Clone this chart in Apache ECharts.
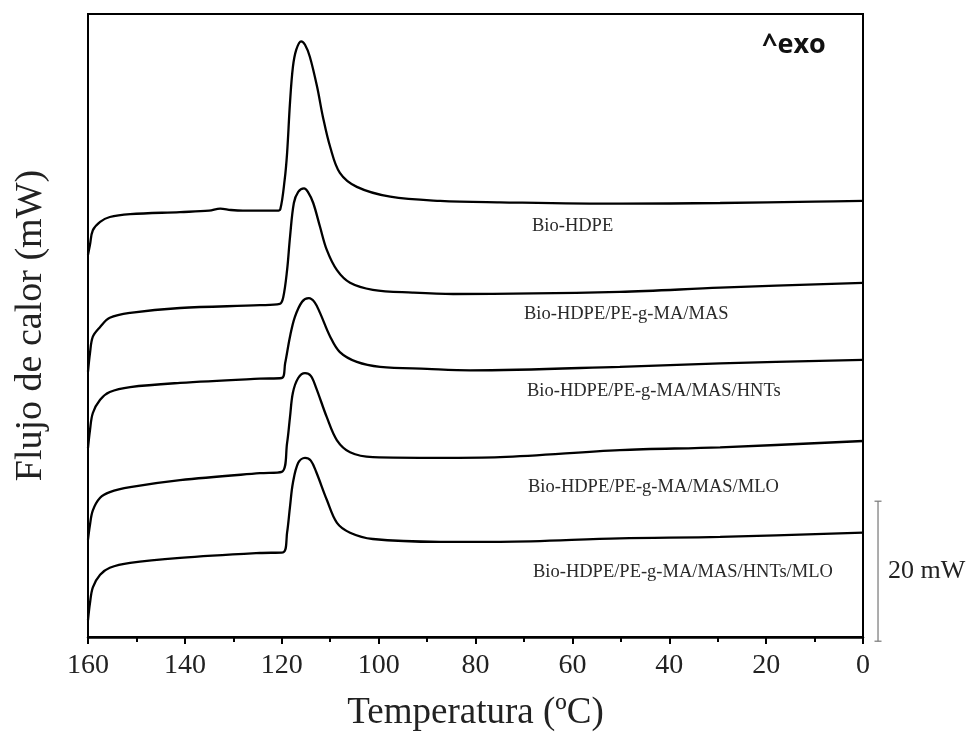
<!DOCTYPE html>
<html>
<head>
<meta charset="utf-8">
<script src="https://cdn.jsdelivr.net/npm/echarts@6/dist/echarts.min.js"></script>
<style>
  html, body { margin: 0; padding: 0; background: #fff; }
  #chart { width: 968px; height: 742px; }
</style>
</head>
<body>
<div id="chart"></div>
<script>
// DSC cooling curves, [temperature (ºC), heat flow (mW, shifted)]
var hdpe = [[160, 54.6], [159.6, 56.0], [159.0, 58.1], [157.5, 59.3], [155.5, 60.0], [151.3, 60.4], [141.0, 60.7], [135.0, 60.9], [132.7, 61.2], [130.5, 61.0], [128.0, 60.9], [121.0, 60.9], [120.3, 61.1], [119.4, 65.3], [118.9, 69.1], [118.3, 76.3], [117.7, 81.4], [117.0, 83.9], [116.0, 85.1], [115.2, 84.6], [114.2, 82.9], [112.7, 78.6], [111.5, 74.3], [110.0, 70.0], [108.0, 66.3], [104.5, 64.3], [97.6, 62.9], [87.3, 62.3], [75.0, 62.1], [50.2, 61.9], [29.5, 62.0], [10.0, 62.2], [0, 62.3]];
var hdpeMas = [[160, 37.9], [159.6, 40.5], [159.0, 42.9], [157.5, 44.3], [155.5, 45.6], [151.3, 46.3], [141.0, 47.0], [124.5, 47.4], [120.4, 47.6], [119.7, 48.5], [118.9, 52.4], [118.3, 57.1], [117.5, 62.0], [116.6, 63.6], [115.4, 64.1], [114.6, 63.6], [113.5, 62.0], [112.1, 58.6], [110.7, 55.3], [108.6, 52.4], [105.9, 50.6], [101.2, 49.6], [93.0, 49.2], [84.6, 49.0], [50.2, 49.3], [29.5, 49.9], [0, 50.6]];
var hdpeMasHnt = [[160, 27.0], [159.6, 29.5], [159.0, 32.0], [157.5, 33.9], [155.5, 35.0], [151.3, 35.7], [141.0, 36.3], [124.5, 36.9], [120.0, 37.0], [119.3, 39.1], [118.3, 42.9], [117.3, 45.7], [115.8, 47.9], [114.4, 48.4], [113.2, 47.8], [112.1, 46.3], [110.0, 42.9], [108.0, 40.7], [104.5, 39.3], [99.7, 38.6], [90.0, 38.3], [81.1, 38.1], [50.2, 38.6], [29.5, 39.1], [0, 39.6]];
var hdpeMasMlo = [[160, 13.9], [159.6, 16.0], [159.0, 18.1], [157.5, 19.9], [155.5, 20.7], [151.3, 21.4], [141.0, 22.4], [124.5, 23.4], [120.0, 23.6], [118.9, 27.7], [118.3, 31.4], [117.7, 34.9], [116.6, 37.0], [115.2, 37.7], [114.0, 37.3], [112.9, 35.6], [110.7, 31.4], [108.6, 28.1], [105.9, 26.4], [101.2, 25.7], [87.3, 25.6], [74.9, 25.7], [50.2, 26.7], [29.5, 27.1], [0, 28.0]];
var hdpeMasHntMlo = [[160, 2.4], [159.6, 4.8], [159.0, 7.1], [157.5, 8.9], [155.5, 9.9], [151.3, 10.6], [141.0, 11.3], [124.5, 12.0], [119.7, 12.1], [118.9, 14.9], [118.3, 18.6], [117.7, 22.0], [116.6, 24.9], [115.2, 25.6], [114.0, 25.2], [112.9, 23.6], [110.7, 19.6], [108.6, 16.3], [105.9, 14.9], [101.2, 14.0], [87.3, 13.6], [74.9, 13.6], [50.2, 14.1], [29.5, 14.3], [0, 14.9]];

var sampleNames = ['Bio-HDPE', 'Bio-HDPE/PE-g-MA/MAS', 'Bio-HDPE/PE-g-MA/MAS/HNTs', 'Bio-HDPE/PE-g-MA/MAS/MLO', 'Bio-HDPE/PE-g-MA/MAS/HNTs/MLO'];
var curves = [hdpe, hdpeMas, hdpeMasHnt, hdpeMasMlo, hdpeMasHntMlo];

// 20 mW scale bar: [x, yFrom, yTo]
var scaleBar = [[-3.1, -0.6, 19.4]];

var serif = '"Liberation Serif", "DejaVu Serif", serif';

var chart = echarts.init(document.getElementById('chart'));

var series = curves.map(function(c, i) {
    return {
        name: sampleNames[i],
        type: 'line',
        data: c,
        showSymbol: false,
        smooth: 0.35,
        lineStyle: { color: '#000', width: 2.3 },
        animation: false
    };
});

series.push({
    type: 'custom',
    clip: false,
    animation: false,
    data: scaleBar,
    renderItem: function(params, api) {
        var p0 = api.coord([api.value(0), api.value(1)]);
        var p1 = api.coord([api.value(0), api.value(2)]);
        var st = { stroke: '#777', lineWidth: 1.2 };
        return {
            type: 'group',
            children: [
                { type: 'line', shape: { x1: p0[0], y1: p0[1], x2: p1[0], y2: p1[1] }, style: st },
                { type: 'line', shape: { x1: p0[0] - 3.5, y1: p0[1], x2: p0[0] + 3.5, y2: p0[1] }, style: st },
                { type: 'line', shape: { x1: p1[0] - 3.5, y1: p1[1], x2: p1[0] + 3.5, y2: p1[1] }, style: st },
                { type: 'text', x: p0[0] + 10, y: (p0[1] + p1[1]) / 2,
                  style: { text: '20 mW', font: '26px ' + serif, fill: '#222', verticalAlign: 'middle' } }
            ]
        };
    }
});

// sample labels placed beside each curve
var labelTops = [227, 315, 392, 488, 573];
var labelLefts = [532, 524, 527, 528, 533];
var graphics = sampleNames.map(function(n, i) {
    return {
        type: 'text', left: labelLefts[i], top: labelTops[i] - 10,
        style: { text: n, font: '18.5px ' + serif, fill: '#2a2a2a' }
    };
});
graphics.push({
    type: 'text', left: 762, top: 32,
    style: { text: '^exo', font: 'bold 27px "Open Sans", sans-serif', fill: '#111' }
});

var option = {
    backgroundColor: '#fff',
    animation: false,
    grid: {
        left: 88, right: 105, top: 14, bottom: 105,
        show: true, borderColor: '#000', borderWidth: 2
    },
    xAxis: {
        type: 'value',
        inverse: true,
        min: 0, max: 160, interval: 20,
        name: 'Temperatura (ºC)',
        nameLocation: 'middle',
        nameGap: 58,
        nameTextStyle: { fontFamily: serif, fontSize: 37, color: '#222' },
        axisLine: { lineStyle: { color: '#000', width: 2.5 } },
        axisTick: { length: 7, lineStyle: { color: '#000', width: 2 } },
        minorTick: { show: true, splitNumber: 2, length: 5, lineStyle: { color: '#000', width: 2 } },
        axisLabel: { fontFamily: serif, fontSize: 28, color: '#222', margin: 15 },
        splitLine: { show: false }
    },
    yAxis: {
        type: 'value',
        min: 0, max: 89,
        name: 'Flujo de calor (mW)',
        nameLocation: 'middle',
        nameGap: 38,
        nameTextStyle: { fontFamily: serif, fontSize: 38, color: '#222' },
        axisLine: { show: false },
        axisTick: { show: false },
        axisLabel: { show: false },
        splitLine: { show: false }
    },
    graphic: graphics,
    series: series
};
chart.setOption(option);
</script>
</body>
</html>
